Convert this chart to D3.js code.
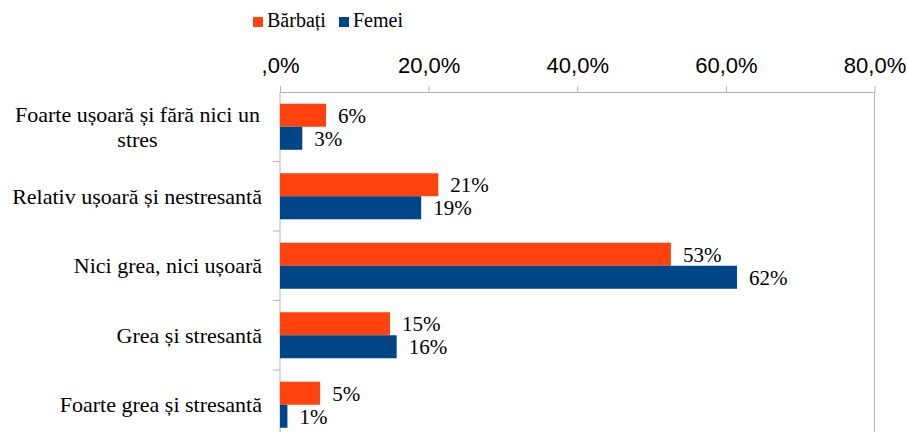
<!DOCTYPE html>
<meta charset="utf-8">
<html>
<head>
  <script src="https://cdn.jsdelivr.net/npm/d3@7"></script>
  <style>
    body { margin: 0; background: #fff; }
  </style>
</head>
<body>
  <svg id="svg" width="908" height="432"></svg>
  <script>
    // chart data
    var categories = ["Foarte ușoară și fără nici un stres", "Relativ ușoară și nestresantă",
      "Nici grea, nici ușoară", "Grea și stresantă", "Foarte grea și stresantă"];
    var seriesNames = ["Bărbați", "Femei"];
    var barbati = [0.062, 0.213, 0.526, 0.148, 0.054];
    var femei = [0.030, 0.190, 0.615, 0.157, 0.010];
    var tickValues = [0, 0.2, 0.4, 0.6, 0.8];
    var colors = ["#ff420e", "#004586"];

    var serif = "'Liberation Serif', 'Times New Roman', Times, serif";
    var sans = "'Liberation Sans', Arial, Helvetica, sans-serif";

    var svg = d3.select("#svg");
    var axisColor = "#b3b3b3";

    var x = d3.scaleLinear().domain([0, 0.8]).range([280, 874.5]);
    var y0 = d3.scaleBand().domain(categories).range([92, 439.5]);
    var y1 = d3.scaleBand().domain(seriesNames).range([0, y0.bandwidth()]).paddingOuter(0.51);

    // x axis on top
    var fmt = function (d) {
      return d === 0 ? ",0%" : d3.format(".1f")(d * 100).replace(".", ",") + "%";
    };
    var xAxis = svg.append("g")
      .attr("transform", "translate(0,92)")
      .call(d3.axisTop(x).tickValues(tickValues).tickFormat(fmt).tickSize(6).tickPadding(13).tickSizeOuter(0));
    xAxis.attr("font-family", sans).attr("font-size", 22);
    xAxis.selectAll("text").attr("fill", "#000");
    xAxis.selectAll("line, path").attr("stroke", axisColor);

    // right border line and left axis line
    svg.append("line")
      .attr("x1", x(0.8)).attr("x2", x(0.8))
      .attr("y1", 92).attr("y2", 432)
      .attr("stroke", axisColor);
    svg.append("line")
      .attr("x1", x(0)).attr("x2", x(0))
      .attr("y1", 92).attr("y2", 432)
      .attr("stroke", axisColor);

    // category ticks at band boundaries
    svg.selectAll(".ctick")
      .data(categories.slice(1))
      .enter()
      .append("line")
      .attr("x1", x(0) - 7).attr("x2", x(0))
      .attr("y1", function (d) { return y0(d); })
      .attr("y2", function (d) { return y0(d); })
      .attr("stroke", axisColor);

    // bars
    var rows = categories.map(function (c, i) {
      return { cat: c, vals: [barbati[i], femei[i]] };
    });
    var groups = svg.selectAll(".grp")
      .data(rows)
      .enter()
      .append("g")
      .attr("transform", function (d) { return "translate(0," + y0(d.cat) + ")"; });

    groups.selectAll("rect")
      .data(function (d) { return d.vals.map(function (v, j) { return { s: seriesNames[j], v: v, j: j }; }); })
      .enter()
      .append("rect")
      .attr("x", x(0))
      .attr("y", function (d) { return y1(d.s); })
      .attr("width", function (d) { return x(d.v) - x(0); })
      .attr("height", y1.bandwidth())
      .attr("fill", function (d) { return colors[d.j]; });

    groups.selectAll(".lbl")
      .data(function (d) { return d.vals.map(function (v, j) { return { s: seriesNames[j], v: v }; }); })
      .enter()
      .append("text")
      .attr("font-family", serif)
      .attr("font-size", 21)
      .attr("x", function (d) { return x(d.v) + 12; })
      .attr("y", function (d) { return y1(d.s) + y1.bandwidth() / 2 + 7.5; })
      .text(function (d) { return Math.round(d.v * 100) + "%"; });

    // category labels, wrapped when too long
    categories.forEach(function (c) {
      var cy = y0(c) + y0.bandwidth() / 2;
      var t = svg.append("text").attr("font-family", serif).attr("font-size", 22)
        .attr("text-anchor", "end").attr("x", 262).attr("y", cy + 7.5).text(c);
      if (t.node().getComputedTextLength() > 256) {
        var words = c.split(" "), lines = [], line = [];
        t.text("");
        words.forEach(function (w) {
          line.push(w);
          t.text(line.join(" "));
          if (t.node().getComputedTextLength() > 256) {
            line.pop();
            lines.push(line.join(" "));
            line = [w];
          }
        });
        lines.push(line.join(" "));
        t.text("").attr("text-anchor", "middle");
        lines.forEach(function (l, k) {
          t.append("tspan")
            .attr("x", 137.5)
            .attr("y", cy + 7.5 + (k - (lines.length - 1) / 2) * 25)
            .text(l);
        });
      }
    });

    // legend
    var legend = svg.append("g").attr("transform", "translate(253,17)");
    var lx = [0, 86];
    seriesNames.forEach(function (s, i) {
      legend.append("rect")
        .attr("x", lx[i]).attr("y", 0)
        .attr("width", 10).attr("height", 10)
        .attr("fill", colors[i]);
      legend.append("text")
        .attr("font-family", serif)
        .attr("font-size", 20)
        .attr("x", lx[i] + 14).attr("y", 10)
        .text(s);
    });
  </script>
</body>
</html>
